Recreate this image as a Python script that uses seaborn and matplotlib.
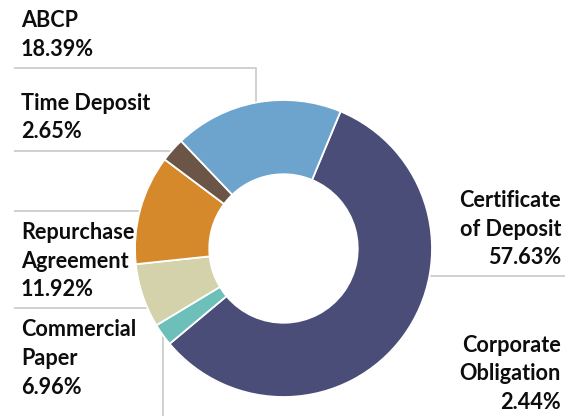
import numpy as np
import matplotlib
matplotlib.use("Agg")
import matplotlib.pyplot as plt
import seaborn as sns

# Portfolio composition by instrument type
categories = ["Certificate\nof Deposit", "Corporate\nObligation", "Commercial\nPaper",
              "Repurchase\nAgreement", "Time Deposit", "ABCP"]
shares = [57.63, 2.44, 6.96, 11.92, 2.65, 18.39]
colors = ["#4B4D79", "#6DBFB9", "#D4D2AB", "#D5892B", "#6B5547", "#6CA4CE"]

sns.set_theme(style="white")
plt.rcParams["font.family"] = ["Lato", "DejaVu Sans"]

W, H = 565, 416
fig = plt.figure(figsize=(W / 100, H / 100), dpi=100)
renderer = fig.canvas.get_renderer()

# Overlay in pixel units for labels and leader lines
over = fig.add_axes([0, 0, 1, 1])
over.set_xlim(0, W)
over.set_ylim(H, 0)
over.axis("off")

# Donut geometry (pixels)
cx, cy, R = 283.5, 248.5, 148.5
ax = fig.add_axes([(cx - R) / W, (H - cy - R) / H, 2 * R / W, 2 * R / H])
wedges, _ = ax.pie(shares, colors=colors, startangle=67.4, counterclock=False,
                   radius=1.0,
                   wedgeprops=dict(width=0.5, edgecolor="white", linewidth=1.3))
ax.set_xlim(-1, 1)
ax.set_ylim(-1, 1)
ax.axis("off")


def edge_x(y, side):
    dx = np.sqrt(max(R ** 2 - (y - cy) ** 2, 0))
    return cx - dx if side == "left" else cx + dx


def mid_point(w):
    a = np.deg2rad((w.theta1 + w.theta2) / 2)
    return cx + R * np.cos(a), cy - R * np.sin(a)


line_kw = dict(color="#D0D0D0", lw=1.4, solid_capstyle="butt", zorder=1)

idx = {c.split("\n")[0]: i for i, c in enumerate(categories)}
# ABCP: elbow down onto the slice
mx, my = mid_point(wedges[idx["ABCP"]])
over.plot([14, mx, mx], [68, 68, my], **line_kw)
# left-side horizontal leaders
for y in (151, 211, 308):
    over.plot([14, edge_x(y, "left")], [y, y], **line_kw)
# Certificate of Deposit: right-side leader
over.plot([edge_x(276, "right"), W], [276, 276], **line_kw)
# Corporate Obligation: vertical drop off the slice
mx, my = mid_point(wedges[idx["Corporate"]])
over.plot([mx, mx], [my, H], **line_kw)

# Label font size: scale so the labels span the intended width
probe = fig.text(0, 0, "Time Deposit", fontsize=10, fontweight="bold")
fs = 10 * 129 / probe.get_window_extent(renderer).width
probe.remove()

pitch = 28.5
label_pos = {
    "ABCP": (21, 27, "left"),
    "Time Deposit": (21, 109.5, "left"),
    "Repurchase": (21, 239, "left"),
    "Commercial": (21, 336.5, "left"),
    "Certificate": (561, 207, "right"),
    "Corporate": (561, 352, "right"),
}
for cat, val in zip(categories, shares):
    x, y0, ha = label_pos[cat.split("\n")[0]]
    lines = cat.split("\n") + [f"{val:.2f}%"]
    for k, line in enumerate(lines):
        over.text(x, y0 + k * pitch, line, ha=ha, va="baseline",
                  fontsize=fs, fontweight="bold", color="#0D0D0D")

fig.savefig("out.png", dpi=100)
